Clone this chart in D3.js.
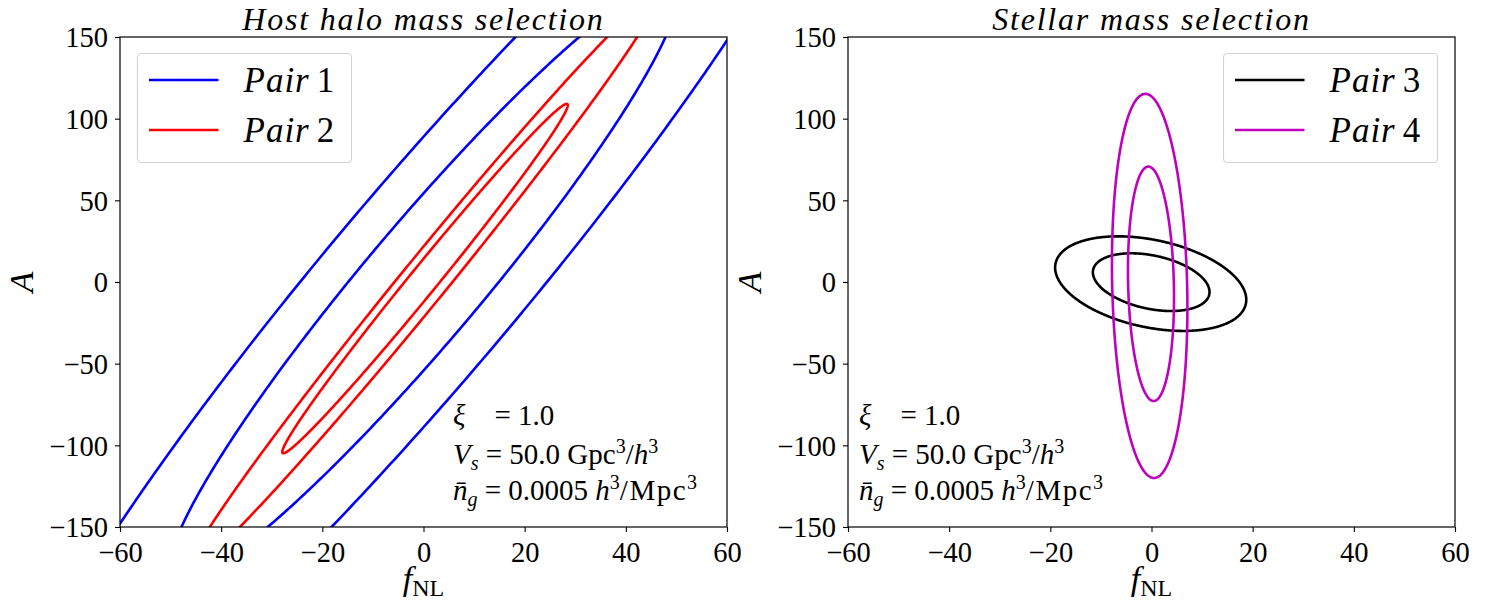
<!DOCTYPE html>
<html>
<head>
<meta charset="utf-8">
<title>Fisher contours</title>
<script src="https://d3js.org/d3.v7.min.js"></script>
<style>
  body { margin: 0; background: #fff; }
  text { font-family: "Liberation Serif", "DejaVu Serif", serif; fill: #000; }
  .tick text { font-size: 28.5px; }
  .domain { stroke: none; }
  .tick line { stroke: #000; stroke-width: 1.1; }
</style>
</head>
<body>
<script>
// ---- data ----
const panelTitles = ["Host halo mass selection", "Stellar mass selection"];
const pairNames = ["Pair 1", "Pair 2", "Pair 3", "Pair 4"];
const pairPanel = [0, 0, 1, 1];
// 1-sigma errors and correlation of (f_NL, A) for each pair
const sigmaF = [33.1, 18.6, 7.6, 3.0];
const sigmaA = [120.6, 70.5, 11.65, 47.3];
const rho = [0.955, 0.9923, -0.34, -0.115];
// contour centres (68% and 95% contours are slightly offset)
const centerF68 = [0, 0.3, -0.06, -0.1];
const centerA68 = [0, 2.1, -0.1, -1.1];
const centerF95 = [0, 0, -0.16, -0.36];
const centerA95 = [0, 0, -1.0, -2.4];
// sqrt(delta chi^2) for the 68% and 95% levels of two parameters
const levels = [1.517, 2.486];
const xTicks = [-60, -40, -20, 0, 20, 40, 60];
const yTicks = [-150, -100, -50, 0, 50, 100, 150];
const xDomain = [-60, 60];
const yDomain = [-150, 150];

const colors = ["#0000ff", "#ff0000", "#000000", "#bf00bf"];

const W = 1500, H = 600;
const panels = [{x0: 120, x1: 727}, {x0: 848, x1: 1455}];
const plotTop = 37, plotBottom = 527;

const svg = d3.select("body").append("svg")
    .attr("width", W).attr("height", H);

const fmt = d => d < 0 ? "\u2212" + Math.abs(d) : String(d);

panels.forEach(function(p, pi) {
    const x = d3.scaleLinear().domain(xDomain).range([p.x0, p.x1]);
    const y = d3.scaleLinear().domain(yDomain).range([plotBottom, plotTop]);

    svg.append("clipPath").attr("id", "clip" + pi)
      .append("rect")
        .attr("x", p.x0).attr("y", plotTop)
        .attr("width", p.x1 - p.x0).attr("height", plotBottom - plotTop);

    const g = svg.append("g").attr("clip-path", "url(#clip" + pi + ")");

    const line = d3.line().x(d => x(d[0])).y(d => y(d[1]));

    pairNames.forEach(function(name, k) {
        if (pairPanel[k] !== pi) return;
        levels.forEach(function(lv, li) {
            const cx = li === 0 ? centerF68[k] : centerF95[k];
            const cy = li === 0 ? centerA68[k] : centerA95[k];
            const wx = lv * sigmaF[k], wy = lv * sigmaA[k];
            const r = rho[k], s = Math.sqrt(1 - r * r);
            const pts = d3.range(0, 721).map(function(i) {
                const t = i / 720 * 2 * Math.PI;
                return [cx + wx * Math.cos(t),
                        cy + wy * (r * Math.cos(t) + s * Math.sin(t))];
            });
            g.append("path")
                .attr("d", line(pts))
                .attr("fill", "none")
                .attr("stroke", colors[k])
                .attr("stroke-width", 2.6);
        });
    });

    // frame
    svg.append("rect")
        .attr("x", p.x0).attr("y", plotTop)
        .attr("width", p.x1 - p.x0).attr("height", plotBottom - plotTop)
        .attr("fill", "none").attr("stroke", "#000").attr("stroke-width", 1.2);

    svg.append("g")
        .attr("transform", "translate(0," + plotBottom + ")")
        .call(d3.axisBottom(x).tickValues(xTicks).tickFormat(fmt).tickSize(5).tickPadding(6))
        .selectAll(".tick text").attr("dy", "0.85em");

    svg.append("g")
        .attr("transform", "translate(" + p.x0 + ",0)")
        .call(d3.axisLeft(y).tickValues(yTicks).tickFormat(fmt).tickSize(5).tickPadding(7))
        .selectAll(".tick text").attr("dy", "0.34em");

    const cxm = (p.x0 + p.x1) / 2;

    // title
    svg.append("text")
        .attr("x", cxm).attr("y", 30)
        .attr("text-anchor", "middle")
        .style("font-size", "32px").style("font-style", "italic")
        .style("letter-spacing", "1.8px")
        .text(panelTitles[pi]);

    // axis labels
    const xl = svg.append("text")
        .attr("x", cxm).attr("y", 590)
        .attr("text-anchor", "middle")
        .style("font-size", "34px");
    xl.append("tspan").style("font-style", "italic").text("f");
    xl.append("tspan").attr("dy", 6).style("font-size", "24px").text("NL");

    svg.append("text")
        .attr("transform", "translate(" + (p.x0 - 87) + "," + ((plotTop + plotBottom) / 2) + ") rotate(-90)")
        .attr("text-anchor", "middle")
        .style("font-size", "34px").style("font-style", "italic")
        .text("A");

    // legend
    const lx = pi === 0 ? p.x0 + 17.5 : p.x1 - 231.5;
    svg.append("rect")
        .attr("x", lx).attr("y", 53.5)
        .attr("width", 214).attr("height", 109)
        .attr("rx", 4)
        .attr("fill", "#fff").attr("fill-opacity", 0.8)
        .attr("stroke", "#d4d4d4").attr("stroke-width", 1.2);
    let row = 0;
    pairNames.forEach(function(name, k) {
        if (pairPanel[k] !== pi) return;
        const ly = 80 + row * 50;
        svg.append("line")
            .attr("x1", lx + 11.5).attr("x2", lx + 81)
            .attr("y1", ly).attr("y2", ly)
            .attr("stroke", colors[k]).attr("stroke-width", 2.6);
        const parts = name.split(" ");
        const t = svg.append("text")
            .attr("x", lx + 106).attr("y", ly + 12)
            .style("font-size", "35px");
        t.append("tspan").style("font-style", "italic").style("letter-spacing", "1px").text(parts[0]);
        t.append("tspan").text("\u2009" + parts[1]);
        row++;
    });

    // annotation
    const ax = pi === 0 ? 453 : 859;
    const fs = "29px";
    const t1 = svg.append("text").attr("x", ax).attr("y", 425).style("font-size", fs);
    t1.append("tspan").style("font-style", "italic").text("\u03be");
    t1.append("tspan").text("\u2003= 1.0");

    const t2 = svg.append("text").attr("x", ax).attr("y", 464).style("font-size", fs);
    t2.append("tspan").style("font-style", "italic").text("V");
    t2.append("tspan").attr("dy", 6).style("font-size", "20px").style("font-style", "italic").text("s");
    t2.append("tspan").attr("dy", -6).text(" = 50.0 Gpc");
    t2.append("tspan").attr("dy", -11).style("font-size", "20px").text("3");
    t2.append("tspan").attr("dy", 11).text("/");
    t2.append("tspan").style("font-style", "italic").text("h");
    t2.append("tspan").attr("dy", -11).style("font-size", "20px").text("3");

    const t3 = svg.append("text").attr("x", ax).attr("y", 500).style("font-size", fs);
    t3.append("tspan").style("font-style", "italic").text("n\u0304");
    t3.append("tspan").attr("dy", 6).style("font-size", "20px").style("font-style", "italic").text("g");
    t3.append("tspan").attr("dy", -6).text(" = 0.0005 ");
    t3.append("tspan").style("font-style", "italic").text("h");
    t3.append("tspan").attr("dy", -11).style("font-size", "20px").text("3");
    t3.append("tspan").attr("dy", 11).text("/Mpc").style("letter-spacing", "1.5px");
    t3.append("tspan").attr("dy", -11).style("font-size", "20px").text("3");
});
</script>
</body>
</html>
